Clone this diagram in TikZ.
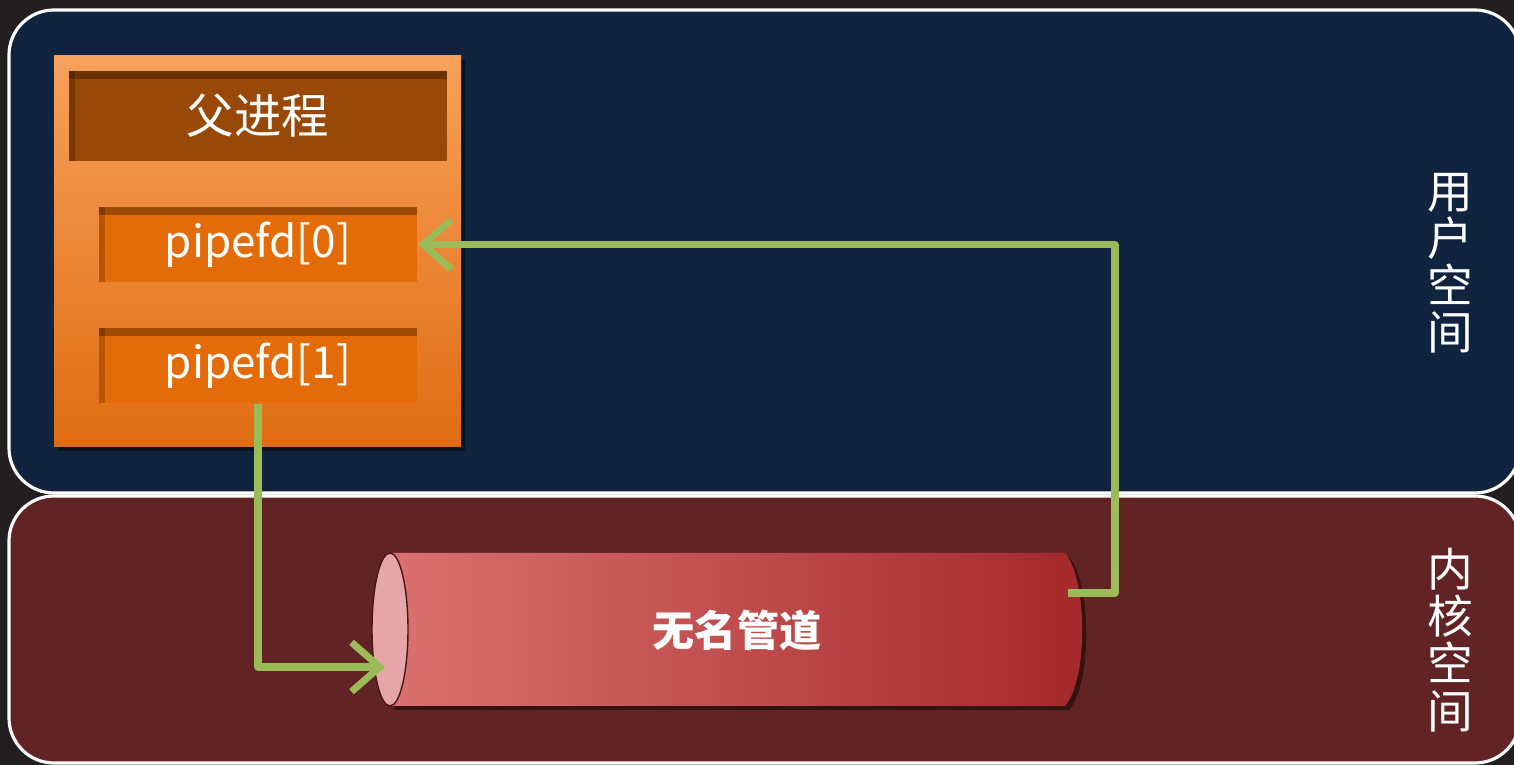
\documentclass[tikz,border=0pt]{standalone}
\usepackage{fontspec}
\setmainfont{Noto Sans CJK SC}
\usetikzlibrary{arrows.meta,shadows}
\definecolor{bgdark}{HTML}{231F20}
\definecolor{userblue}{HTML}{11243F}
\definecolor{kernred}{HTML}{612323}
\definecolor{procbright}{HTML}{F7A15B}
\definecolor{procdeep}{HTML}{E06C12}
\definecolor{titlebrown}{HTML}{984807}
\definecolor{fdorange}{HTML}{E36C09}
\definecolor{arrowgreen}{HTML}{9BBB59}
\definecolor{pipelight}{HTML}{DA716F}
\definecolor{pipedark}{HTML}{A5282A}
\definecolor{pipeend}{HTML}{E6A6A7}
\tikzstyle{space} = [draw=white, line width=0.9pt, rounded corners=4.5mm]
\tikzstyle{softshadow} = [drop shadow={fill=black, opacity=0.45, shadow xshift=0.4mm, shadow yshift=-0.4mm}]
\tikzstyle{proc} = [rectangle, top color=procbright, bottom color=procdeep, minimum width=40.7mm, minimum height=39.1mm, softshadow]
\tikzstyle{inset} = [path picture={\fill[black, opacity=0.3] (path picture bounding box.north west) rectangle ([yshift=-0.8mm]path picture bounding box.north east);
                                    \fill[black, opacity=0.2] (path picture bounding box.north west) rectangle ([xshift=0.6mm]path picture bounding box.south west);}]
\tikzstyle{bar} = [rectangle, inset, fill=titlebrown, text=white, minimum width=37.8mm, minimum height=9mm, font=\fontsize{13.5}{16}\selectfont]
\tikzstyle{fd} = [rectangle, inset, fill=fdorange, text=white, minimum width=31.8mm, minimum height=7.5mm, font=\fontsize{12.5}{15}\selectfont]
\tikzstyle{flow} = [draw=arrowgreen, line width=2pt, line join=round, -{Straight Barb[length=8pt,width=14pt]}]
\tikzstyle{vlabel} = [text=white, align=center, font=\fontsize{13}{13.4}\selectfont]

\begin{document}
\begin{tikzpicture}[x=0.1mm, y=-0.1mm]
            \fill[bgdark] (0,0) rectangle (1514,765);
            \useasboundingbox (0,0) rectangle (1514,765);

            \draw[space, fill=userblue] (9,10) rectangle (1520,493);
            \draw[space, fill=kernred] (9,496) rectangle (1520,763);

            \node[proc] (parent) at (257.5,251.5) {};
            \node[bar] (title) at (258,116) {父进程};
            \node[fd] (fd0) at (258,244.5) {pipefd[0]};
            \node[fd] (fd1) at (258,365.5) {pipefd[1]};

            % pipe body
            \shade[left color=pipelight, right color=pipedark, softshadow] (390,553) -- (1065,553) .. controls (1088,580) and (1088,680) .. (1065,706) -- (390,706) -- cycle;
            \filldraw[fill=pipeend, draw=kernred!70!black, line width=0.4pt] (390,629.5) ellipse [x radius=1.8mm, y radius=7.65mm];
            \node[text=white, font=\bfseries\fontsize{12}{14}\selectfont] (pipe) at (737,631) {无名管道};
            \coordinate (pipein) at (385,667);
            \coordinate (pipeout) at (1068,593);

            \draw[flow] (fd1.south) |- (pipein);
            \draw[flow] (pipeout) -- ++(47,0) |- (fd0.east);

            \node[vlabel] (userlbl) at (1450,263) {用\\户\\空\\间};
            \node[vlabel] (kernlbl) at (1450,640) {内\\核\\空\\间};
\end{tikzpicture}
\end{document}
